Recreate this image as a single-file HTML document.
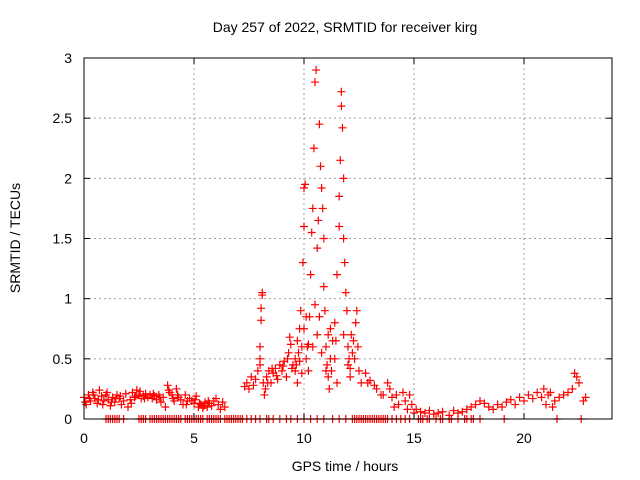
<!DOCTYPE html>
<html><head><meta charset="utf-8"><style>
body{margin:0;background:#fff}
svg{display:block;font-family:"Liberation Sans",sans-serif}
</style></head><body>
<svg id="chart" width="640" height="480" xmlns="http://www.w3.org/2000/svg">
<rect width="640" height="480" fill="#fff"/>
<g id="grid"></g>
<g id="marks"></g>
<rect x="84" y="58" width="528" height="361" fill="none" stroke="#000" stroke-width="1"/>
<g id="ticks"></g>
<text x="345" y="32" font-size="14" text-anchor="middle">Day 257 of 2022, SRMTID for receiver kirg</text>
<text x="345" y="471" font-size="14" text-anchor="middle">GPS time / hours</text>
<text x="20" y="238" font-size="14" text-anchor="middle" transform="rotate(-90 20 238)">SRMTID / TECUs</text>
</svg>
<script>
const xTicks=[0,5,10,15,20];
const yTicks=[0,0.5,1,1.5,2,2.5,3];
const yTickLabels=["0","0.5","1","1.5","2","2.5","3"];
const times=[0.0,0.1,0.2,0.3,0.4,0.5,0.6,0.7,0.8,0.9,1.0,1.1,1.2,1.3,1.4,1.5,1.6,1.7,1.8,1.9,2.0,2.1,2.2,2.3,2.4,2.5,2.6,2.7,2.8,2.9,3.0,3.1,3.2,3.3,3.4,3.5,3.6,3.7,3.8,3.9,4.0,4.1,4.2,4.3,4.4,4.5,4.6,4.7,4.8,4.9,5.0,5.1,5.2,5.3,5.4,5.5,5.6,5.7,5.8,5.9,6.0,6.1,6.2,6.3,6.4,
0.05,0.25,0.45,0.65,0.85,1.05,1.25,1.45,1.65,2.15,2.35,2.55,2.75,3.15,3.45,3.85,4.05,4.25,4.65,5.05,5.25,5.45,5.65,
7.3,7.4,7.5,7.6,7.7,7.8,7.9,8.0,8.0,8.05,8.05,8.1,8.1,8.0,8.15,8.2,8.25,8.3,8.4,8.5,8.6,8.7,8.8,8.9,9.0,9.1,9.2,9.3,9.35,9.4,9.5,9.6,9.7,9.75,9.8,9.85,9.9,9.95,10.0,10.0,10.05,10.0,10.1,10.2,10.25,10.3,10.35,10.4,10.45,10.5,10.55,10.5,10.6,10.65,10.7,10.75,10.8,10.85,10.9,10.9,10.95,11.0,11.05,11.1,11.1,11.15,11.2,11.3,11.4,11.5,11.6,11.6,11.65,11.7,11.7,11.75,11.8,11.8,11.85,11.9,11.95,12.0,12.05,12.1,12.15,12.2,12.3,12.35,12.4,12.45,12.5,12.6,12.8,12.9,13.0,13.2,13.3,13.5,
9.6,9.7,9.8,10.1,10.2,10.4,10.6,10.8,11.0,11.2,11.4,11.5,11.8,12.0,8.35,8.55,8.75,9.05,9.25,9.45,9.65,9.9,10.15,10.7,11.25,11.45,12.1,12.25,
13.6,13.8,13.9,14.0,14.1,14.2,14.3,14.5,14.6,14.7,14.8,14.9,15.0,15.1,15.3,15.5,15.7,15.9,16.1,16.3,16.6,16.8,17.0,17.2,17.4,17.6,17.8,18.0,18.2,18.4,18.6,18.8,19.0,19.2,19.4,19.6,19.8,20.0,20.2,20.4,20.6,20.8,20.9,21.0,21.1,21.2,21.3,21.4,21.6,21.8,22.0,22.2,22.3,22.4,22.5,22.7,22.8];
const values=[0.18,0.12,0.2,0.15,0.22,0.17,0.13,0.24,0.19,0.15,0.2,0.16,0.11,0.18,0.14,0.2,0.17,0.12,0.15,0.21,0.1,0.16,0.22,0.18,0.24,0.2,0.17,0.19,0.21,0.18,0.2,0.17,0.19,0.16,0.2,0.14,0.18,0.1,0.28,0.22,0.2,0.15,0.25,0.18,0.16,0.12,0.2,0.15,0.17,0.15,0.13,0.19,0.1,0.12,0.09,0.14,0.1,0.13,0.11,0.15,0.17,0.12,0.08,0.14,0.1,
0.14,0.17,0.2,0.16,0.12,0.22,0.14,0.17,0.19,0.13,0.19,0.23,0.17,0.21,0.18,0.24,0.17,0.2,0.12,0.16,0.13,0.11,0.15,
0.27,0.3,0.25,0.35,0.28,0.33,0.4,0.45,0.6,0.82,0.92,1.03,1.05,0.5,0.3,0.2,0.25,0.35,0.4,0.3,0.38,0.42,0.33,0.45,0.4,0.48,0.35,0.55,0.68,0.62,0.45,0.4,0.3,0.55,0.75,0.9,0.6,1.3,1.6,1.92,1.95,0.75,0.5,0.62,0.85,1.2,1.55,1.75,2.25,2.8,2.9,0.95,1.42,1.65,2.45,2.1,1.92,1.75,1.5,1.1,0.9,0.6,0.45,0.35,0.7,0.25,0.5,0.65,0.8,1.2,1.6,1.85,2.15,2.6,2.72,2.42,2.0,1.5,1.3,1.05,0.9,0.6,0.5,0.35,0.7,0.55,0.5,0.8,0.9,0.6,0.4,0.3,0.38,0.3,0.32,0.28,0.25,0.2,
0.5,0.65,0.48,0.85,0.4,0.6,0.7,0.55,0.4,0.75,0.5,0.3,0.7,0.45,0.3,0.42,0.36,0.44,0.5,0.42,0.45,0.38,0.6,0.85,0.4,0.65,0.42,0.65,
0.2,0.3,0.25,0.18,0.1,0.2,0.12,0.22,0.15,0.08,0.2,0.12,0.05,0.08,0.06,0.05,0.07,0.04,0.05,0.06,0.03,0.07,0.05,0.06,0.08,0.1,0.12,0.15,0.13,0.1,0.08,0.12,0.1,0.14,0.16,0.12,0.18,0.15,0.2,0.17,0.22,0.18,0.25,0.12,0.2,0.22,0.1,0.15,0.18,0.2,0.22,0.25,0.38,0.35,0.3,0.15,0.18];
const zeroTimes=[1.0,1.1,1.2,1.3,1.4,1.5,1.6,1.8,2.5,2.6,2.7,2.8,3.0,3.1,3.2,3.3,3.4,3.5,3.6,3.7,3.8,3.9,4.0,4.1,4.2,4.3,4.4,4.6,4.7,4.8,4.9,5.0,5.1,5.2,5.3,5.4,5.6,5.7,5.8,5.9,6.0,6.1,6.2,6.4,6.5,6.6,6.7,6.8,6.9,7.0,7.1,7.2,7.4,7.6,7.8,8.0,8.3,8.4,8.6,8.9,9.2,9.4,9.7,10.0,10.3,10.6,10.9,11.3,11.6,11.9,12.2,12.3,12.4,12.5,12.6,12.7,12.8,12.9,13.0,13.1,13.2,13.3,13.4,13.5,13.6,13.7,13.8,14.0,14.2,14.4,14.6,14.8,15.2,15.3,15.4,15.6,15.7,16.0,16.2,16.3,16.6,16.7,17.0,17.3,17.4,17.6,17.7,18.0,19.1,21.5,22.6];
const NS="http://www.w3.org/2000/svg";
const X=t=>84+t*22;
const Y=v=>419-v*120.33;
const grid=document.getElementById('grid'),ticks=document.getElementById('ticks'),marks=document.getElementById('marks');
function mk(tag,a,p){const e=document.createElementNS(NS,tag);for(const k in a)e.setAttribute(k,a[k]);p.appendChild(e);return e;}
xTicks.forEach(t=>{
 if(t>0){const g=mk('line',{x1:X(t),x2:X(t),y1:58,y2:419,stroke:'#a0a0a0','stroke-dasharray':'2,3'},grid);
 
 }
 const l=mk('text',{x:X(t),y:443,'font-size':14,'text-anchor':'middle'},ticks);l.textContent=t;
 
 
 mk('line',{x1:X(t),x2:X(t),y1:419,y2:413,stroke:'#000'},ticks);
 mk('line',{x1:X(t),x2:X(t),y1:58,y2:64,stroke:'#000'},ticks);
});
yTicks.forEach((v,i)=>{
 if(v>0&&v<3){const g=mk('line',{x1:84,x2:612,y1:Y(v),y2:Y(v),stroke:'#a0a0a0','stroke-dasharray':'2,3'},grid);
 
 }
 const l=mk('text',{x:72,y:Y(v)+5,'font-size':14,'text-anchor':'end'},ticks);l.textContent=yTickLabels[i];
 
 
 mk('line',{x1:84,x2:90,y1:Y(v),y2:Y(v),stroke:'#000'},ticks);
 mk('line',{x1:612,x2:606,y1:Y(v),y2:Y(v),stroke:'#000'},ticks);
});
function plus(x,y){const p=mk('path',{d:`M${x-4},${y}h8M${x},${y-4}v8`,stroke:'#f00','stroke-width':1.2,fill:'none'},marks);return p;}
times.forEach((t,i)=>{const p=plus(X(t),Y(values[i]));
 
 });
zeroTimes.forEach(t=>{const p=plus(X(t),Y(0));
 
 });
</script>
</body></html>
